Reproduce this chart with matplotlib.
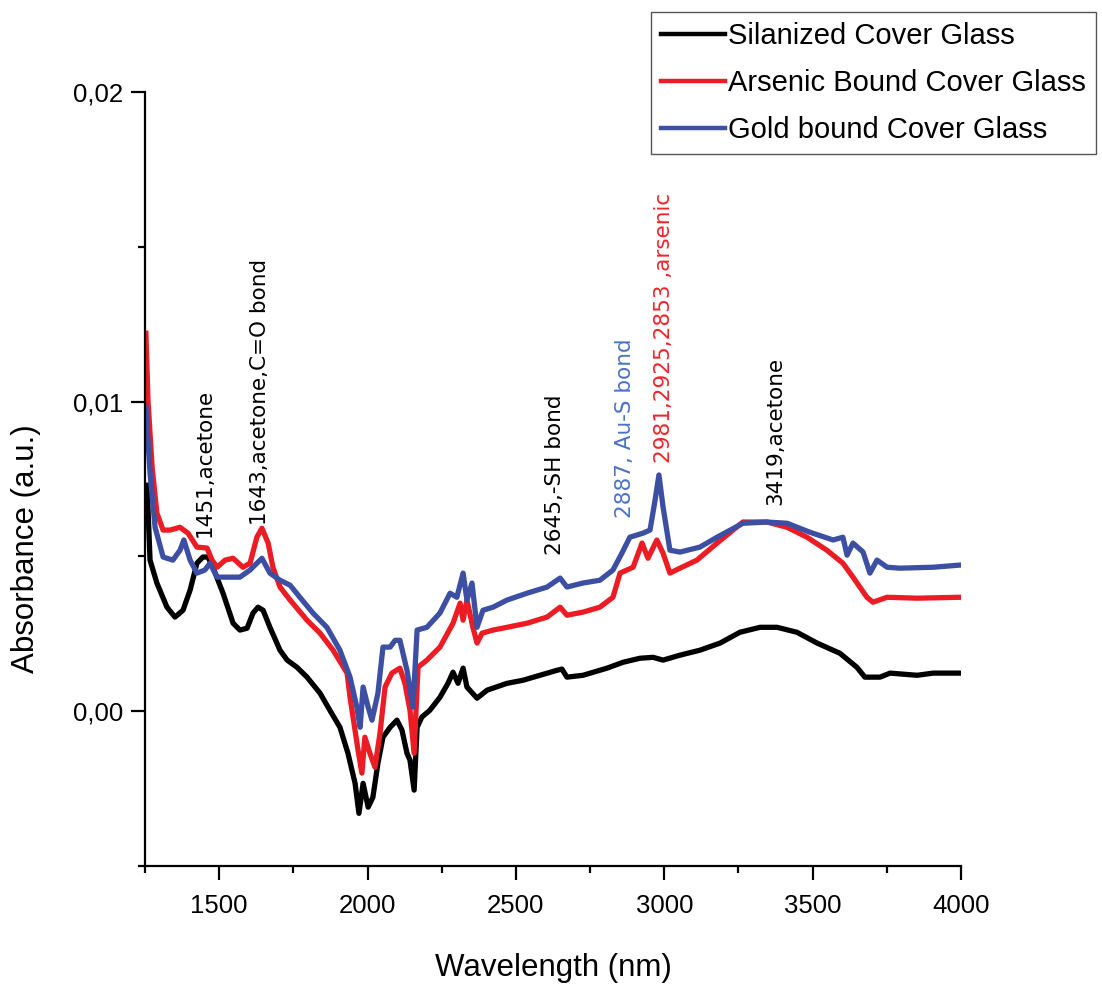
import numpy as np
import matplotlib
matplotlib.use("Agg")
import matplotlib.pyplot as plt
from matplotlib.ticker import MultipleLocator, FuncFormatter

# Silanized cover glass (black)
wl_sil = [1257, 1267, 1290, 1324, 1351, 1378, 1402, 1425, 1445, 1462, 1479, 1513,
          1547, 1570, 1594, 1614, 1631, 1648, 1671, 1705, 1729, 1762, 1796, 1840,
          1873, 1907, 1934, 1958, 1971, 1985, 2002, 2018, 2035, 2052, 2076, 2099,
          2116, 2133, 2143, 2157, 2167, 2183, 2210, 2244, 2271, 2288, 2305, 2322,
          2335, 2369, 2403, 2470, 2524, 2581, 2638, 2655, 2672, 2726, 2807, 2861,
          2918, 2962, 2996, 3053, 3120, 3188, 3255, 3323, 3380, 3447, 3515, 3592,
          3649, 3676, 3727, 3761, 3852, 3906, 3997]
abs_sil = [0.00730, 0.00488, 0.00414, 0.00336, 0.00304, 0.00326, 0.00391, 0.00478,
           0.00498, 0.00498, 0.00465, 0.00381, 0.00284, 0.00262, 0.00268, 0.00317,
           0.00336, 0.00326, 0.00271, 0.00197, 0.00165, 0.00142, 0.00110, 0.00058,
           0.00003, -0.00052, -0.00136, -0.00233, -0.00330, -0.00233, -0.00310,
           -0.00278, -0.00168, -0.00084, -0.00052, -0.00029, -0.00061, -0.00136,
           -0.00158, -0.00255, -0.00052, -0.00019, 0.00003, 0.00045, 0.00090,
           0.00126, 0.00090, 0.00139, 0.00078, 0.00042, 0.00068, 0.00090, 0.00100,
           0.00116, 0.00132, 0.00136, 0.00110, 0.00116, 0.00139, 0.00158, 0.00171,
           0.00174, 0.00165, 0.00181, 0.00197, 0.00220, 0.00255, 0.00271, 0.00271,
           0.00255, 0.00220, 0.00187, 0.00142, 0.00110, 0.00110, 0.00123, 0.00116,
           0.00123, 0.00123]

# Arsenic bound cover glass (red)
wl_ars = [1253, 1260, 1274, 1290, 1311, 1334, 1368, 1395, 1425, 1459, 1476, 1493,
          1520, 1547, 1580, 1604, 1627, 1644, 1665, 1681, 1705, 1739, 1796, 1840,
          1884, 1931, 1941, 1968, 1981, 1991, 2008, 2025, 2042, 2059, 2082, 2109,
          2126, 2143, 2157, 2170, 2200, 2244, 2288, 2312, 2322, 2335, 2355, 2369,
          2386, 2423, 2470, 2537, 2605, 2649, 2672, 2726, 2783, 2827, 2851, 2895,
          2925, 2945, 2975, 2996, 3019, 3053, 3110, 3178, 3265, 3346, 3414, 3481,
          3548, 3602, 3636, 3683, 3703, 3751, 3852, 3997]
abs_ars = [0.01221, 0.01005, 0.00788, 0.00640, 0.00585, 0.00585, 0.00594, 0.00575,
           0.00530, 0.00527, 0.00488, 0.00465, 0.00488, 0.00494, 0.00465, 0.00478,
           0.00562, 0.00591, 0.00543, 0.00465, 0.00401, 0.00359, 0.00294, 0.00252,
           0.00197, 0.00123, 0.00045, -0.00126, -0.00200, -0.00084, -0.00136,
           -0.00181, -0.00071, 0.00078, 0.00123, 0.00139, 0.00090, 0.00003,
           -0.00136, 0.00142, 0.00165, 0.00207, 0.00284, 0.00349, 0.00294, 0.00359,
           0.00271, 0.00220, 0.00252, 0.00262, 0.00271, 0.00284, 0.00304, 0.00336,
           0.00310, 0.00320, 0.00336, 0.00368, 0.00446, 0.00465, 0.00543, 0.00494,
           0.00553, 0.00510, 0.00446, 0.00462, 0.00488, 0.00543, 0.00611, 0.00611,
           0.00594, 0.00562, 0.00520, 0.00478, 0.00433, 0.00368, 0.00352, 0.00368,
           0.00365, 0.00368]

# Gold bound cover glass (blue)
wl_gold = [1253, 1267, 1284, 1311, 1344, 1368, 1381, 1402, 1425, 1452, 1469, 1493,
           1526, 1570, 1604, 1644, 1671, 1705, 1739, 1772, 1816, 1863, 1907, 1941,
           1964, 1975, 1985, 2002, 2015, 2035, 2052, 2076, 2093, 2109, 2133, 2153,
           2167, 2200, 2244, 2278, 2301, 2322, 2335, 2352, 2369, 2389, 2423, 2470,
           2537, 2605, 2649, 2672, 2726, 2783, 2827, 2857, 2884, 2928, 2952, 2969,
           2982, 2996, 3019, 3053, 3120, 3178, 3265, 3346, 3414, 3491, 3569, 3602,
           3616, 3636, 3670, 3693, 3717, 3751, 3794, 3906, 3997]
abs_gold = [0.00982, 0.00769, 0.00594, 0.00498, 0.00488, 0.00520, 0.00553, 0.00488,
            0.00446, 0.00456, 0.00478, 0.00433, 0.00433, 0.00433, 0.00456, 0.00494,
            0.00446, 0.00423, 0.00407, 0.00368, 0.00317, 0.00271, 0.00197, 0.00110,
            0.00013, -0.00052, 0.00078, 0.00013, -0.00029, 0.00058, 0.00207,
            0.00207, 0.00229, 0.00229, 0.00132, 0.00013, 0.00262, 0.00271, 0.00317,
            0.00381, 0.00368, 0.00446, 0.00359, 0.00414, 0.00271, 0.00326, 0.00336,
            0.00359, 0.00381, 0.00401, 0.00430, 0.00401, 0.00414, 0.00423, 0.00456,
            0.00510, 0.00562, 0.00575, 0.00585, 0.00682, 0.00763, 0.00659, 0.00520,
            0.00514, 0.00530, 0.00562, 0.00607, 0.00611, 0.00607, 0.00578, 0.00553,
            0.00562, 0.00504, 0.00543, 0.00514, 0.00446, 0.00488, 0.00465, 0.00462,
            0.00465, 0.00472]

series_labels = ["Silanized Cover Glass", "Arsenic Bound Cover Glass",
                 "Gold bound Cover Glass"]

# peak annotations: text, wavelength, absorbance at text foot
peak_text = ["1451,acetone", "1643,acetone,C=O bond", "2645,-SH bond",
             "2887, Au-S bond", "2981,2925,2853 ,arsenic", "3419,acetone"]
peak_wl = [1452, 1638, 2632, 2868, 2999, 3373]
peak_abs = [0.00562, 0.00601, 0.00504, 0.00624, 0.00801, 0.00666]

BLACK = "#000000"
RED = "#ec1c24"
BLUE = "#3d4fa3"
peak_col = [BLACK, BLACK, BLACK, "#4a72c4", "#f0242a", BLACK]

plt.rcParams["font.family"] = ["Liberation Sans", "DejaVu Sans"]

fig = plt.figure(figsize=(11.02, 9.84), dpi=100)
ax = fig.add_axes([145 / 1102, 118 / 984, 816 / 1102, 774 / 984])

ax.plot(wl_sil, abs_sil, color=BLACK, lw=3.8, label=series_labels[0])
ax.plot(wl_ars, abs_ars, color=RED, lw=3.8, label=series_labels[1])
ax.plot(wl_gold, abs_gold, color=BLUE, lw=3.8, label=series_labels[2])

for t, x, y, c in zip(peak_text, peak_wl, peak_abs, peak_col):
    ax.text(x, y, t, rotation=90, ha="center", va="bottom", color=c,
            fontsize=15.5, family="DejaVu Sans")

ax.set_xlim(1250, 4000)
ax.set_ylim(-0.005, 0.02)
ax.spines["top"].set_visible(False)
ax.spines["right"].set_visible(False)
ax.spines["left"].set_linewidth(1.6)
ax.spines["bottom"].set_linewidth(1.6)

ax.xaxis.set_major_locator(MultipleLocator(500))
ax.xaxis.set_minor_locator(MultipleLocator(250))
ax.yaxis.set_major_locator(MultipleLocator(0.01))
ax.yaxis.set_minor_locator(MultipleLocator(0.005))
ax.yaxis.set_major_formatter(FuncFormatter(lambda v, p: f"{v:.2f}".replace(".", ",")))
ax.tick_params(which="major", direction="out", length=10, width=1.6,
               labelsize=18.5, pad=10)
ax.tick_params(which="minor", direction="out", length=5, width=1.6)
ax.tick_params(axis="y", which="major", pad=6)

ax.set_xlabel("Wavelength (nm)", fontsize=22.5)
ax.xaxis.set_label_coords(0.5, -0.113)
ax.set_ylabel("Absorbance (a.u.)", fontsize=22.5)
ax.yaxis.set_label_coords(-0.128, 0.41)

leg = ax.legend(loc="upper right", bbox_to_anchor=(1096 / 1102, 1 - 12 / 984),
                bbox_transform=fig.transFigure, borderaxespad=0, fontsize=21,
                handlelength=2.2, handletextpad=0.1, labelspacing=0.65,
                borderpad=0.35, fancybox=False, framealpha=1)
leg.get_frame().set_edgecolor("#555555")
leg.get_frame().set_linewidth(1.0)
for h in leg.get_lines():
    h.set_linewidth(3.2)

fig.savefig("out.png", dpi=100)
